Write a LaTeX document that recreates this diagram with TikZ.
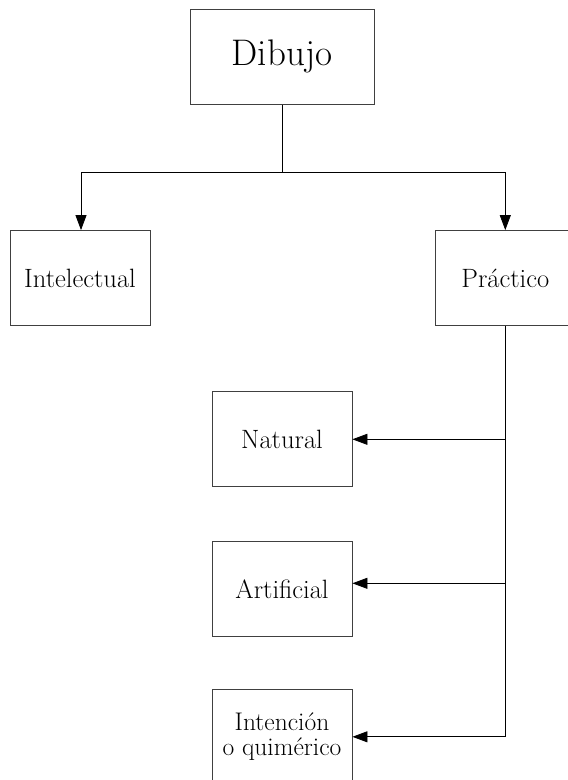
\documentclass[tikz,border=0pt]{standalone}
\usetikzlibrary{arrows.meta}

\begin{document}
\begin{tikzpicture}[x=1pt, y=-1pt,
    box/.style={draw=black!75, line width=0.8pt, minimum width=140pt, minimum height=95pt,
      inner sep=0pt, align=center, font=\fontsize{26.5}{26}\selectfont},
    link/.style={line width=0.8pt},
    tip/.style={link, -{Triangle[length=15pt, width=11pt]}}]
    % \draw[help lines] (0, 0) grid (568, 780);
    \useasboundingbox (0, 0) rectangle (568, 780);

    \node[box, minimum width=184pt, font=\fontsize{37}{38}\selectfont] (dibujo) at (282, 56.8) {Dibujo};
    \node[box] (intelectual) at (80, 278) {Intelectual};
    \node[box] (practico) at (505.3, 278) {Práctico};
    \node[box] (natural) at (282, 439.3) {Natural};
    \node[box] (artificial) at (282, 588.8) {Artificial};
    \node[box, font=\fontsize{25.5}{25}\selectfont] (intencion) at (282, 736.8) {Intención\\o quimérico};

    % first split
    \coordinate (split) at (282, 172.3);
    \draw[link] (dibujo.south) -- (split);
    \draw[tip] (split) -| ([xshift=1pt]intelectual.north);
    \draw[tip] (split) -| (practico.north);

    % branch of the practical one
    \coordinate (trunk) at (practico.south |- intencion.east);
    \coordinate (artin) at ([yshift=5.5pt]artificial.east);
    \draw[link] (practico.south) -- (trunk);
    \draw[tip] (practico.south |- natural.east) -- (natural.east);
    \draw[tip] (practico.south |- artin) -- (artin);
    \draw[tip] (trunk) -- (intencion.east);
\end{tikzpicture}
\end{document}
